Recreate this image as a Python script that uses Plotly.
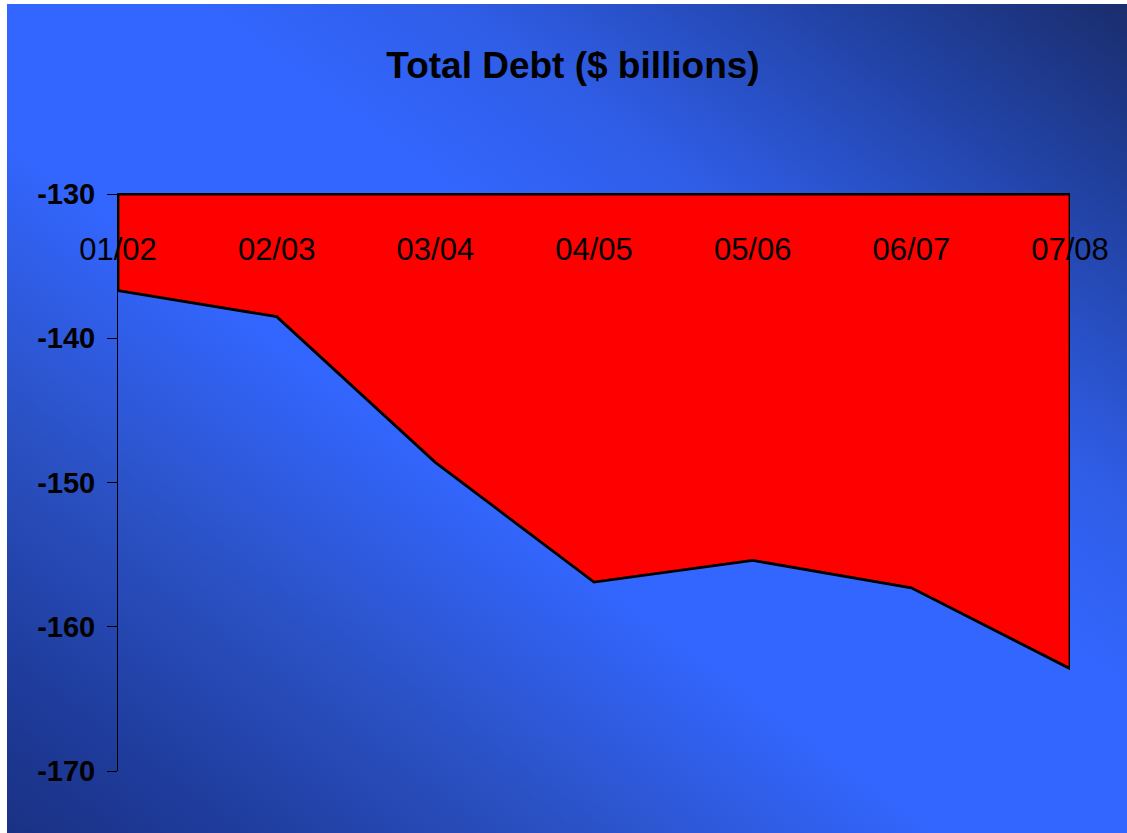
import base64
import plotly.graph_objects as go

# Fiscal periods and total debt ($ billions)
periods = ["01/02", "02/03", "03/04", "04/05", "05/06", "06/07", "07/08"]
total_debt = [-136.7, -138.5, -148.6, -156.9, -155.4, -157.3, -162.9]

# Value axis
y_ticks = [-170, -160, -150, -140, -130]
y_min, y_max = -170, -130

W, H = 1127, 833
# plot-area edges in pixels
L, R, T, B = 118, 1070, 194, 771

FONT = "Liberation Sans, Arial, sans-serif"

# Diagonal blue backdrop: dark corners (top-right / bottom-left), bright centre band
stops = [
    (0.00, "#1a2d6c"), (0.14, "#2243a6"), (0.30, "#2f5de6"), (0.42, "#3366ff"),
    (0.58, "#3366ff"), (0.74, "#2b52c6"), (0.90, "#1f3c9c"), (1.00, "#1a3184"),
]
stop_xml = "".join(f'<stop offset="{o}" stop-color="{c}"/>' for o, c in stops)
svg = (
    '<svg xmlns="http://www.w3.org/2000/svg" width="1120" height="829" '
    'viewBox="0 0 1120 829" preserveAspectRatio="none">'
    f'<defs><linearGradient id="g" x1="1" y1="0" x2="0" y2="1">{stop_xml}</linearGradient></defs>'
    '<rect width="1120" height="829" fill="url(#g)"/></svg>'
)
bg_src = "data:image/svg+xml;base64," + base64.b64encode(svg.encode()).decode()

# backdrop spans pixels x 7..1127, y 4..833 -> convert to plot-area paper units
pw, ph = R - L, B - T
bg_x0 = (7 - L) / pw
bg_x1 = (W - L) / pw
bg_y_top = (B - 4) / ph
bg_y_bot = (B - H) / ph

fig = go.Figure()

# Area between the debt line and the top of the value axis
fig.add_trace(go.Scatter(
    x=periods + [periods[-1], periods[0], periods[0]],
    y=total_debt + [y_max, y_max, total_debt[0]],
    mode="lines",
    fill="toself",
    fillcolor="#ff0000",
    line=dict(color="black", width=2.8),
    hoverinfo="skip",
    showlegend=False,
))

fig.update_layout(
    width=W, height=H,
    margin=dict(l=L, r=W - R, t=T, b=H - B, pad=0, autoexpand=False),
    paper_bgcolor="white",
    plot_bgcolor="rgba(0,0,0,0)",
    images=[dict(
        source=bg_src, xref="paper", yref="paper",
        x=bg_x0, y=bg_y_top, sizex=bg_x1 - bg_x0, sizey=bg_y_top - bg_y_bot,
        xanchor="left", yanchor="top", sizing="stretch", layer="below",
    )],
    title=dict(
        text="Total Debt ($ billions)",
        font=dict(family=FONT, size=37, color="black", weight="bold"),
        x=573 / W, xref="container", xanchor="center",
        y=1 - 65 / H, yref="container", yanchor="middle",
    ),
    xaxis=dict(
        type="category",
        range=[0, len(periods) - 1],
        side="top",
        showline=True, linecolor="black", linewidth=1,
        ticks="",
        showgrid=False, zeroline=False,
        ticklabelposition="inside",
        ticklabeloverflow="allow",
        ticklabelstandoff=48,
        tickfont=dict(family=FONT, size=31, color="black"),
    ),
    yaxis=dict(
        range=[y_min, y_max],
        tickvals=y_ticks,
        ticktext=[str(v) for v in y_ticks],
        ticks="outside", ticklen=10, tickcolor="black", tickwidth=1,
        showline=True, linecolor="black", linewidth=1,
        showgrid=False, zeroline=False,
        ticklabelstandoff=6,
        tickfont=dict(family=FONT, size=29, color="black", weight="bold"),
    ),
)

fig.write_html("out.html")
